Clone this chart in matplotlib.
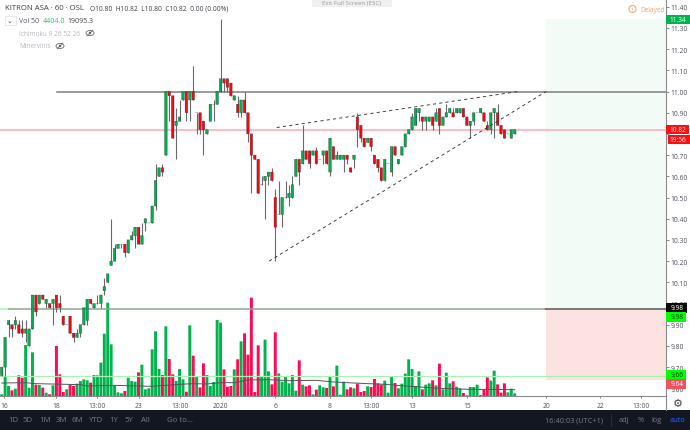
import matplotlib
matplotlib.use("Agg")
import matplotlib.pyplot as plt
from matplotlib.patches import Rectangle, Circle, Ellipse

plt.rcParams['font.family'] = ['Open Sans', 'DejaVu Sans']

# hourly candles
opens = [9.66, 9.70, 9.90, 9.90, 9.90, 9.90, 9.88, 9.86, 9.80, 9.88,
         10.04, 10.00, 10.04, 10.00, 10.00, 10.00, 10.04, 10.00, 9.94, 9.90,
         9.94, 9.86, 9.84, 9.86, 9.90, 9.92, 10.02, 9.98, 10.00, 10.00,
         10.06, 10.10, 10.18, 10.20, 10.26, 10.28, 10.28, 10.24, 10.30, 10.32,
         10.36, 10.28, 10.38, 10.38, 10.38, 10.46, 10.60, 10.64, 10.70, 11.00,
         10.98, 10.84, 10.86, 10.96, 11.00, 10.96, 11.00, 10.90, 10.90, 10.86,
         10.80, 10.86, 10.94, 10.94, 11.00, 11.06, 11.06, 11.04, 10.96, 10.94,
         10.90, 10.96, 10.90, 10.80, 10.70, 10.68, 10.56, 10.58, 10.60, 10.62,
         10.50, 10.42, 10.42, 10.50, 10.50, 10.50, 10.60, 10.68, 10.66, 10.72,
         10.72, 10.70, 10.72, 10.68, 10.70, 10.72, 10.62, 10.74, 10.68, 10.68,
         10.68, 10.70, 10.64, 10.68, 10.88, 10.84, 10.78, 10.76, 10.78, 10.70,
         10.68, 10.64, 10.58, 10.66, 10.62, 10.74, 10.66, 10.70, 10.74, 10.80,
         10.82, 10.84, 10.90, 10.88, 10.86, 10.86, 10.88, 10.86, 10.92, 10.84,
         10.88, 10.90, 10.90, 10.90, 10.90, 10.92, 10.88, 10.84, 10.86, 10.90,
         10.90, 10.90, 10.84, 10.82, 10.90, 10.90, 10.84, 10.82, 10.80, 10.78,
         10.80]
closes = [9.70, 9.84, 9.92, 9.88, 9.92, 9.86, 9.86, 9.88, 9.88, 10.04,
          9.96, 10.04, 10.02, 10.02, 9.98, 10.02, 9.98, 9.98, 9.90, 9.90,
          9.86, 9.84, 9.86, 9.90, 9.98, 10.02, 10.00, 10.00, 10.00, 10.04,
          10.08, 10.14, 10.20, 10.26, 10.28, 10.28, 10.24, 10.30, 10.32, 10.36,
          10.28, 10.32, 10.40, 10.38, 10.46, 10.58, 10.64, 10.62, 11.00, 10.98,
          10.78, 10.86, 10.88, 11.00, 10.90, 11.00, 10.96, 10.90, 10.82, 10.82,
          10.82, 10.94, 10.94, 11.00, 11.06, 11.04, 11.02, 10.98, 10.98, 10.90,
          10.96, 10.90, 10.80, 10.70, 10.68, 10.52, 10.56, 10.60, 10.62, 10.58,
          10.36, 10.42, 10.50, 10.50, 10.52, 10.56, 10.68, 10.62, 10.72, 10.68,
          10.66, 10.72, 10.66, 10.68, 10.72, 10.66, 10.78, 10.68, 10.70, 10.70,
          10.70, 10.68, 10.62, 10.70, 10.82, 10.78, 10.74, 10.78, 10.74, 10.66,
          10.64, 10.58, 10.68, 10.66, 10.74, 10.70, 10.68, 10.74, 10.80, 10.82,
          10.88, 10.92, 10.92, 10.86, 10.88, 10.88, 10.84, 10.90, 10.84, 10.88,
          10.90, 10.92, 10.88, 10.92, 10.92, 10.88, 10.84, 10.86, 10.90, 10.90,
          10.92, 10.86, 10.82, 10.90, 10.92, 10.84, 10.80, 10.78, 10.80, 10.82,
          10.82]
highs = [9.70, 9.84, 9.92, 9.90, 9.94, 9.92, 9.92, 9.92, 9.88, 10.04,
         10.04, 10.04, 10.04, 10.02, 10.00, 10.02, 10.04, 10.04, 9.94, 9.90,
         9.94, 9.86, 9.88, 9.90, 9.98, 10.02, 10.02, 10.00, 10.04, 10.04,
         10.12, 10.14, 10.40, 10.28, 10.28, 10.28, 10.28, 10.30, 10.34, 10.36,
         10.36, 10.38, 10.40, 10.38, 10.46, 10.66, 10.64, 10.66, 11.00, 11.00,
         10.98, 10.92, 10.96, 11.00, 11.00, 11.00, 11.12, 10.90, 10.90, 10.86,
         10.82, 10.94, 10.96, 11.00, 11.34, 11.06, 11.06, 11.04, 10.98, 10.98,
         10.96, 11.00, 10.90, 10.80, 10.70, 10.68, 10.60, 10.60, 10.62, 10.64,
         10.54, 10.58, 10.50, 10.58, 10.56, 10.60, 10.68, 10.68, 10.84, 10.72,
         10.72, 10.72, 10.74, 10.68, 10.72, 10.72, 10.78, 10.74, 10.72, 10.70,
         10.70, 10.70, 10.64, 10.70, 10.90, 10.84, 10.78, 10.78, 10.78, 10.70,
         10.68, 10.64, 10.68, 10.66, 10.74, 10.74, 10.68, 10.74, 10.80, 10.82,
         10.90, 10.92, 10.92, 10.88, 10.88, 10.88, 10.88, 10.92, 10.92, 10.88,
         10.94, 10.92, 10.92, 10.92, 10.92, 10.92, 10.88, 10.86, 10.90, 10.90,
         10.92, 10.90, 10.86, 10.90, 10.92, 10.94, 10.84, 10.82, 10.80, 10.82,
         10.82]
lows = [9.66, 9.66, 9.84, 9.84, 9.88, 9.86, 9.84, 9.82, 9.80, 9.88,
        9.94, 10.00, 10.02, 9.98, 9.98, 9.90, 9.96, 9.96, 9.90, 9.90,
        9.86, 9.82, 9.84, 9.84, 9.90, 9.90, 10.00, 9.98, 10.00, 9.98,
        10.04, 10.10, 10.18, 10.20, 10.26, 10.26, 10.22, 10.24, 10.30, 10.26,
        10.28, 10.28, 10.34, 10.38, 10.38, 10.44, 10.60, 10.60, 10.70, 10.86,
        10.78, 10.68, 10.86, 10.96, 10.86, 10.86, 10.96, 10.80, 10.80, 10.70,
        10.80, 10.86, 10.86, 10.94, 11.00, 11.00, 11.00, 10.98, 10.96, 10.88,
        10.88, 10.90, 10.76, 10.52, 10.68, 10.52, 10.56, 10.40, 10.56, 10.58,
        10.20, 10.42, 10.36, 10.50, 10.46, 10.50, 10.60, 10.56, 10.66, 10.68,
        10.64, 10.70, 10.66, 10.68, 10.66, 10.66, 10.60, 10.68, 10.68, 10.68,
        10.62, 10.66, 10.62, 10.64, 10.74, 10.76, 10.74, 10.76, 10.72, 10.66,
        10.62, 10.58, 10.58, 10.66, 10.60, 10.70, 10.66, 10.70, 10.74, 10.80,
        10.82, 10.84, 10.86, 10.82, 10.82, 10.86, 10.82, 10.86, 10.80, 10.84,
        10.88, 10.90, 10.88, 10.90, 10.90, 10.88, 10.84, 10.78, 10.84, 10.90,
        10.90, 10.86, 10.82, 10.80, 10.78, 10.84, 10.80, 10.78, 10.80, 10.78,
        10.80]

# volume in thousands
volume = [2.5, 30, 15, 8.5, 11, 31, 27.5, 76.5, 12.5, 65.5,
          17, 16.5, 12.5, 5, 2.5, 16, 75, 32.5, 6, 10,
          17, 15, 18.5, 22.5, 25, 23.5, 20, 31.5, 31, 50,
          93.5, 140, 77.5, 16, 5.5, 4, 7.5, 27.5, 22.5, 21.5,
          35.5, 47, 10, 11.5, 70, 97, 40.5, 31.5, 104.5, 55.5,
          32.5, 22.5, 40.5, 25, 6.5, 106, 60.5, 30, 13, 49,
          31.5, 15, 21, 114, 110, 40, 14, 15, 40, 55,
          82, 94, 62, 147.5, 6, 76, 30, 84.5, 37, 17.5,
          95.5, 34, 21.5, 30, 19, 31.5, 8, 53.5, 17, 14.5,
          16, 2.5, 9.5, 16, 13, 12, 28.5, 14.5, 45.5, 2,
          21.5, 10, 13, 11.5, 18.5, 6, 7.5, 14.5, 13.5, 25.5,
          19, 17, 23, 5, 29.5, 19.5, 11.5, 18.5, 33.5, 55,
          40.5, 15, 37, 10, 17, 19, 23.5, 16, 48.5, 10,
          35, 19, 22, 14, 11.5, 4.5, 1, 13.5, 13.5, 17,
          1.5, 9.5, 28, 23, 38, 17.5, 5, 19, 5.5, 11,
          4]

# volume moving average, read at a few bars
ma_bars = [0, 7, 10, 19, 23, 25, 33, 40, 44, 48, 52, 56, 60, 64, 68, 72, 78, 84, 92, 97, 105, 112, 118, 128, 137, 150]
ma_vals = [19.5, 20, 18.5, 17.5, 17, 15, 16, 15, 14.5, 16, 17.5, 18.5, 18, 20, 20, 24, 24.5, 23, 23.5, 21, 19, 17.5, 15, 11.5, 10, 9.5]

# drawings
resistance = 11.00
stop_line = 9.975
last_price = 10.82
alert_low = 9.66
target = 11.34
stop = 9.64
upper_x = [80.4, 151]
upper_y = [10.83, 11.00]
lower_x = [78.2, 159.2]
lower_y = [10.20, 11.00]

price_ticks = [9.6, 9.7, 9.8, 9.9, 10.0, 10.1, 10.2, 10.3, 10.4, 10.5, 10.6, 10.7, 10.8, 10.9, 11.0, 11.1, 11.2, 11.3, 11.4]
time_ticks = [0.6, 16, 28, 40, 52, 64, 80, 96, 108, 120, 136, 159.2, 175, 187]
time_labels = ['16', '18', '13:00', '23', '13:00', '2020', '6', '8', '13:00', '13', '15', '20', '22', '13:00']
range_buttons = ['1D', '5D', '1M', '3M', '6M', 'YTD', '1Y', '5Y', 'All']
button_x = [13, 28, 45, 61, 77, 96, 114, 129, 145]

W, H = 690, 431
GREEN = '#00b050'
RED = '#ee0a14'
VGREEN = '#00b34d'
VRED = '#ff0a54'
GREY = '#787b86'

fig = plt.figure(figsize=(W / 100, H / 100), dpi=100, facecolor='white')

x_lo = (0 - 1.7) / 3.42
x_hi = (665.5 - 1.7) / 3.42
p_lo = 11 - (397 - 92.5) / 212
p_hi = 11 + 92.5 / 212

ax = fig.add_axes([0, 1 - 397 / H, 665.5 / W, 397 / H])
ax.set_xlim(x_lo, x_hi)
ax.set_ylim(p_lo, p_hi)

# position boxes
box_left = 159.2
ax.add_patch(Rectangle((box_left, stop_line), x_hi - box_left, target - stop_line, fc='#f3fbf7', ec='none', zorder=0))
ax.add_patch(Rectangle((box_left, stop), x_hi - box_left, stop_line - stop, fc='#fde2e2', ec='none', zorder=0))

# volume
axv = fig.add_axes([0, 1 - 397 / H, 665.5 / W, 397 / H], sharex=ax)
axv.patch.set_alpha(0)
axv.set_ylim(0, 397 * 1.5)
axv.axis('off')
for i, v in enumerate(volume):
    up = closes[i] >= opens[i]
    axv.bar(i, v, width=0.86, color=VGREEN if up else VRED, linewidth=0, zorder=2, snap=False)
axv.plot(ma_bars, ma_vals, color='#555555', lw=0.7, zorder=3)

# levels
ax.patch.set_alpha(0)
ax.set_zorder(axv.get_zorder() + 1)
ax.axhline(last_price, color='#ffa8b2', lw=1.1, zorder=1)
ax.plot([16.2, x_hi], [resistance, resistance], color='#7d7d7d', lw=1.1, zorder=1)
ax.plot([x_lo, 2], [stop_line, stop_line], color='#a8f5b4', lw=1.1, zorder=1)
ax.plot([2, box_left], [stop_line, stop_line], color='#8da58f', lw=1.1, zorder=1)
ax.plot([box_left, x_hi], [stop_line, stop_line], color='#55584f', lw=1.1, zorder=1)
ax.axhline(alert_low, color='#a6f2ae', lw=0.9, zorder=1)

# candles
for i in range(len(opens)):
    ax.vlines(i, lows[i], highs[i], color='#6a6a6a', lw=0.8, zorder=3)
    up = closes[i] >= opens[i]
    ax.bar(i, abs(closes[i] - opens[i]), bottom=min(opens[i], closes[i]), width=0.74,
           color=GREEN if up else RED, edgecolor='#333333', linewidth=0.25, zorder=4, snap=False)

# wedge
for xs, ys in ((upper_x, upper_y), (lower_x, lower_y)):
    ax.plot(xs, ys, color='#333333', lw=0.65, dashes=(3.5, 3.5), zorder=5)

ax.yaxis.tick_right()
ax.set_yticks(price_ticks)
# 10.80 sits under the last price tag, so it gets no label
ax.set_yticklabels(['' if t == 10.8 else '%.2f' % t for t in price_ticks])
ax.tick_params(axis='y', length=2, width=0.5, color='#555555', labelsize=4.9, labelcolor='#4a4e59', pad=1.5)
ax.set_xticks(time_ticks)
ax.set_xticklabels(time_labels)
ax.tick_params(axis='x', length=1.5, width=0.5, color='#555555', labelsize=4.9, labelcolor='#4a4e59', pad=2.5)
for s in ('left', 'top'):
    ax.spines[s].set_visible(False)
ax.spines['right'].set_color('#8a8a8a')
ax.spines['bottom'].set_color('#8a8a8a')
ax.spines['right'].set_linewidth(0.8)
ax.spines['bottom'].set_linewidth(0.8)

# page chrome on a pixel overlay
ov = fig.add_axes([0, 0, 1, 1], zorder=20)
ov.set_xlim(0, W)
ov.set_ylim(H, 0)
ov.axis('off')
ov.patch.set_alpha(0)

ov.add_patch(Rectangle((0, 0), W, 1.2, fc='#9a9a9a', ec='none'))
ov.add_patch(Rectangle((0, 411), W, 20, fc='#131722', ec='none'))
ov.plot([665.7, 665.7], [397, 411], color='#8a8a8a', lw=0.8)

dark = '#3c4049'
ov.text(5, 9, 'KITRON ASA · 60 · OSL', fontsize=5.6, color=dark, va='center')
ov.text(90, 9.5, 'O10.80  H10.82  L10.80  C10.82  0.00 (0.00%)', fontsize=4.8, color=dark, va='center')
ov.add_patch(Rectangle((4.5, 17), 11, 9, fc='white', ec='#dddddd', lw=0.5))
ov.text(10, 21, '⌄', fontsize=5, color=dark, ha='center', va='center', family='DejaVu Sans')
ov.text(19, 21.5, 'Vol 50', fontsize=5.0, color='#555a66', va='center')
ov.text(43, 21.5, '4404.0', fontsize=5.0, color='#22c55e', va='center')
ov.text(67, 21.5, '19095.3', fontsize=5.0, color=dark, va='center')
ov.text(19, 34, 'Ichimoku 9 26 52 26', fontsize=4.7, color='#b4b7be', va='center')
ov.text(19, 47, 'Minervinis', fontsize=4.7, color='#b4b7be', va='center')
for ex, ey in ((90, 34), (60, 47)):
    ov.add_patch(Ellipse((ex, ey), 8, 5, fc='none', ec='#666666', lw=0.6))
    ov.add_patch(Circle((ex, ey), 1.3, fc='#666666', ec='none'))
    ov.plot([ex - 3, ex + 3], [ey + 3, ey - 3], color='#666666', lw=0.5)

ov.add_patch(Rectangle((312, 0), 80, 8, fc='#f0f0f0', ec='none'))
ov.text(352, 3.5, 'Exit Full Screen (ESC)', fontsize=4.4, color='#9a9a9a', ha='center', va='center')

ov.add_patch(Circle((632.5, 10), 3.5, fc='none', ec='#f7a35c', lw=0.7))
ov.text(632.5, 10, '!', fontsize=4, color='#f7a35c', ha='center', va='center')
ov.text(640, 10, 'Delayed', fontsize=4.7, color='#f7a35c', va='center')

# price tags
tags = [(20.5, '11.34', VGREEN, 'white', 666, 690),
        (130.7, '10.82', '#ff1010', 'white', 666, 689),
        (140.4, '19:56', '#ff1010', 'white', 668, 690),
        (309, '9.98', '#0b0b0b', 'white', 666, 687),
        (318, '9.98', '#00ff00', '#0b3d0b', 666, 686),
        (375.7, '9.66', '#00ff00', '#0b3d0b', 666, 686),
        (385, '9.64', '#f2515f', 'white', 666, 686)]
for y, s, bg, fg, x0, x1 in tags:
    ov.add_patch(Rectangle((x0, y - 4.7), x1 - x0, 9.4, fc=bg, ec='none'))
    ov.text(677.5, y, s, fontsize=4.7, color=fg, ha='center', va='center')

ov.text(677.5, 404, '⚙', fontsize=8, color='#444444', ha='center', va='center', family='DejaVu Sans')

for s, x in zip(range_buttons, button_x):
    ov.text(x, 421, s, fontsize=5.6, color=GREY, ha='center', va='center')
ov.text(167, 421, 'Go to...', fontsize=5.6, color=GREY, va='center')
ov.text(545, 421, '16:40:03 (UTC+1)', fontsize=5.3, color=GREY, va='center')
ov.plot([610.5, 610.5], [415, 427], color='#2a2e39', lw=0.7)
ov.text(619, 421, 'adj', fontsize=5.3, color=GREY, va='center')
ov.text(641, 421, '%', fontsize=5.3, color=GREY, ha='center', va='center')
ov.text(657, 421, 'log', fontsize=5.3, color=GREY, ha='center', va='center')
ov.text(677, 421, 'auto', fontsize=5.3, color='#2962ff', ha='center', va='center')

fig.savefig('out.png', dpi=100)
